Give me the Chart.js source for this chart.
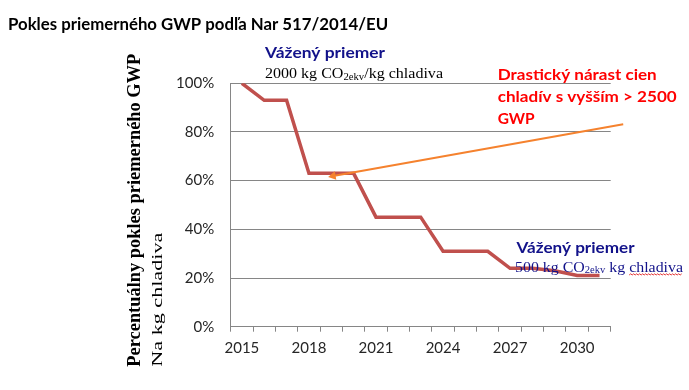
<!DOCTYPE html>
<html><head><meta charset="utf-8">
<script src="https://cdn.jsdelivr.net/npm/chart.js@4.4.1/dist/chart.umd.min.js"></script>
<style>html,body{margin:0;padding:0;background:#fff;}canvas{display:block;}</style>
</head><body>
<canvas id="c" width="689" height="390"></canvas>
<script>
// ---- data ----
const years = ['2015','2016','2017','2018','2019','2020','2021','2022','2023','2024','2025','2026','2027','2028','2029','2030','2031'];
const tickLabels = ['2015','2018','2021','2024','2027','2030'];
const gwpPercent = [100,93,93,63,63,63,45,45,45,31,31,31,24,24,23,21,21];
const arrowYears = [2019.08, 2032.06];
const arrowPercent = [61.9, 83.2];
const yTickValues = [0,20,40,60,80,100];

const GRID = '#868686';
const NAVY = '#12128a';

function drawRun(ctx, x, y, parts, color, targetW, rotate) {
  ctx.save();
  let total = 0;
  for (const p of parts) { ctx.font = p.font; p.w = ctx.measureText(p.t).width; total += p.w; }
  const sx = targetW ? targetW / total : 1;
  ctx.translate(x, y);
  if (rotate) ctx.rotate(-Math.PI / 2);
  ctx.scale(sx, 1);
  ctx.fillStyle = color; ctx.textBaseline = 'alphabetic'; ctx.textAlign = 'left';
  let cx = 0;
  for (const p of parts) { ctx.font = p.font; ctx.fillText(p.t, cx, p.dy || 0); p.x0 = cx * sx; p.sw = p.w * sx; cx += p.w; }
  ctx.restore();
  return parts;
}

const textPlugin = {
  id: 'texts',
  afterDraw(chart) {
    const ctx = chart.ctx;
    const serif = 'Liberation Serif';
    // y-axis titles (rotated)
    drawRun(ctx, 140, 366.7, [{t: 'Percentuálny pokles priemerného GWP', font: `bold 19px "${serif}"`}], '#000', 313, true);
    drawRun(ctx, 161.5, 366.7, [{t: 'Na kg chladiva', font: `15px "${serif}"`}], '#000', 134, true);
    // top annotation
    drawRun(ctx, 265, 57.7, [{t: 'Vážený priemer', font: 'bold 16px Lato'}], NAVY, 120);
    drawRun(ctx, 265, 78.3, [
      {t: '2000 kg CO', font: `15px "${serif}"`},
      {t: '2ekv', font: `10px "${serif}"`, dy: 1.5},
      {t: '/kg chladiva', font: `15px "${serif}"`}
    ], '#000', 178);
    // red annotation
    const red = '#ff0000';
    drawRun(ctx, 497.7, 80, [{t: 'Drastický nárast cien', font: 'bold 16px Lato'}], red, 159);
    drawRun(ctx, 497.7, 102.3, [{t: 'chladív s vyšším > 2500', font: 'bold 16px Lato'}], red, 179);
    drawRun(ctx, 497.7, 124, [{t: 'GWP', font: 'bold 16px Lato'}], red, 37);
    // bottom annotation
    drawRun(ctx, 516.5, 252.5, [{t: 'Vážený priemer', font: 'bold 16px Lato'}], NAVY, 118);
    const parts = drawRun(ctx, 515, 271.7, [
      {t: '500 kg CO', font: `15px "${serif}"`},
      {t: '2ekv', font: `10px "${serif}"`, dy: 1.5},
      {t: ' kg ', font: `15px "${serif}"`},
      {t: 'chladiva', font: `15px "${serif}"`}
    ], NAVY, 168);
    // wavy spell-check underline
    const last = parts[3];
    const x0 = 515 + last.x0, x1 = x0 + last.sw, yb = 275;
    ctx.save();
    ctx.strokeStyle = '#e02020'; ctx.lineWidth = 0.9;
    ctx.beginPath();
    let up = true;
    ctx.moveTo(x0, yb);
    for (let x = x0 + 1.5; x <= x1; x += 1.5) { ctx.lineTo(x, up ? yb - 1.2 : yb); up = !up; }
    ctx.stroke();
    ctx.restore();
  }
};

new Chart(document.getElementById('c'), {
  type: 'line',
  data: {
    labels: years,
    datasets: [
      {
        label: 'Drastický nárast',
        xAxisID: 'x2',
        data: arrowYears.map((x, i) => ({x, y: arrowPercent[i]})),
        borderColor: '#f5822e',
        backgroundColor: '#f5822e',
        borderWidth: 2,
        pointRadius: [5, 0],
        pointStyle: 'triangle',
        pointRotation: [260, 0],
        pointBorderWidth: 0,
        clip: false,
        tension: 0
      },
      {
        label: 'GWP',
        xAxisID: 'x',
        data: gwpPercent,
        borderColor: '#c0504d',
        borderWidth: 3.5,
        pointRadius: 0,
        tension: 0,
        borderJoinStyle: 'miter'
      }
    ]
  },
  options: {
    responsive: false,
    animation: false,
    layout: {padding: {left: 8, right: 78.3, top: 0, bottom: 0}},
    plugins: {
      legend: {display: false},
      tooltip: {enabled: false},
      title: {
        display: true,
        text: 'Pokles priemerného GWP podľa Nar 517/2014/EU',
        align: 'start',
        color: '#000',
        font: {family: 'Lato', size: 16.8, weight: 'bold'},
        padding: {top: 14.5, bottom: 48.6}
      }
    },
    scales: {
      x: {
        type: 'category',
        offset: true,
        afterFit(s) { s.height = 63.3; },
        grid: {offset: true, drawOnChartArea: false, drawTicks: true, tickLength: 5, color: GRID},
        border: {color: GRID, width: 1},
        ticks: {
          autoSkip: false, maxRotation: 0, padding: 7, color: '#262626',
          font: {family: 'Lato', size: 15},
          callback: (v, i) => tickLabels.includes(years[i]) ? years[i] : ''
        }
      },
      x2: {
        type: 'linear',
        display: false,
        min: Number(years[0]) - 0.5,
        max: Number(years[years.length - 1]) + 0.5
      },
      y: {
        min: 0, max: 100,
        afterFit(s) { s.width = 222.7; },
        afterBuildTicks(s) { s.ticks = yTickValues.map(v => ({value: v})); },
        grid: {color: GRID, drawTicks: false},
        border: {color: GRID, width: 1},
        ticks: {padding: 16.5, color: '#262626', font: {family: 'Lato', size: 15}, callback: v => v + '%'}
      }
    }
  },
  plugins: [textPlugin]
});
</script>
</body></html>
